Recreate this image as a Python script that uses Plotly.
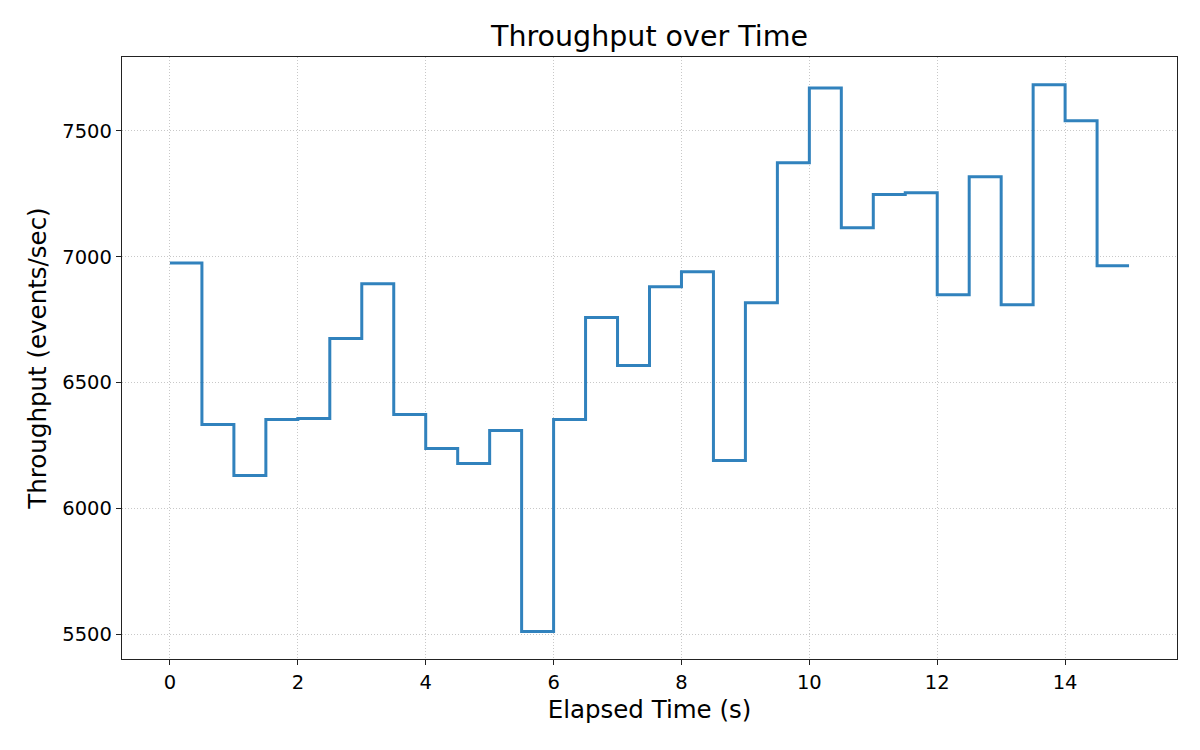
import plotly.graph_objects as go

# Elapsed time (s) and throughput, sampled every 0.5 s
elapsed = [i * 0.5 for i in range(31)]
throughput = [6975, 6333, 6130, 6353, 6357, 6675, 6893, 6373, 6238, 6178,
              6309, 5510, 6353, 6758, 6568, 6881, 6940, 6190, 6817, 7374,
              7671, 7115, 7247, 7254, 6849, 7318, 6809, 7684, 7541, 6964,
              6964]

x_ticks = [0, 2, 4, 6, 8, 10, 12, 14]
y_ticks = [5500, 6000, 6500, 7000, 7500]

fig = go.Figure()
fig.add_trace(go.Scatter(
    x=elapsed,
    y=throughput,
    mode='lines',
    line=dict(color='#3182bd', width=3, shape='hv'),
    showlegend=False
))

axis_style = dict(
    showline=True, mirror=True, linecolor='#222222', linewidth=1.3,
    ticks='outside', ticklen=5, tickwidth=1.3, tickcolor='#222222',
    showgrid=True, gridcolor='#c8c8c8', griddash='1px,2px', gridwidth=1,
    zeroline=False, tickfont=dict(size=19.5, color='black')
)

# page adds an 8px body margin, so margins are offset by that
fig.update_layout(
    width=1200, height=750,
    paper_bgcolor='white', plot_bgcolor='white',
    font=dict(family='DejaVu Sans', color='black'),
    margin=dict(l=114, r=31, t=49, b=99),
    title=dict(text='Throughput over Time', xref='paper', x=0.5, xanchor='center',
               y=0.962, yanchor='middle', font=dict(size=28.5)),
    xaxis=dict(axis_style, range=[-0.75, 15.75], tickvals=x_ticks,
               title=dict(text='Elapsed Time (s)', font=dict(size=24.5), standoff=8)),
    yaxis=dict(axis_style, range=[5401, 7794], tickvals=y_ticks,
               title=dict(text='Throughput (events/sec)', font=dict(size=24.5), standoff=8)),
)

fig.write_html('out.html')
